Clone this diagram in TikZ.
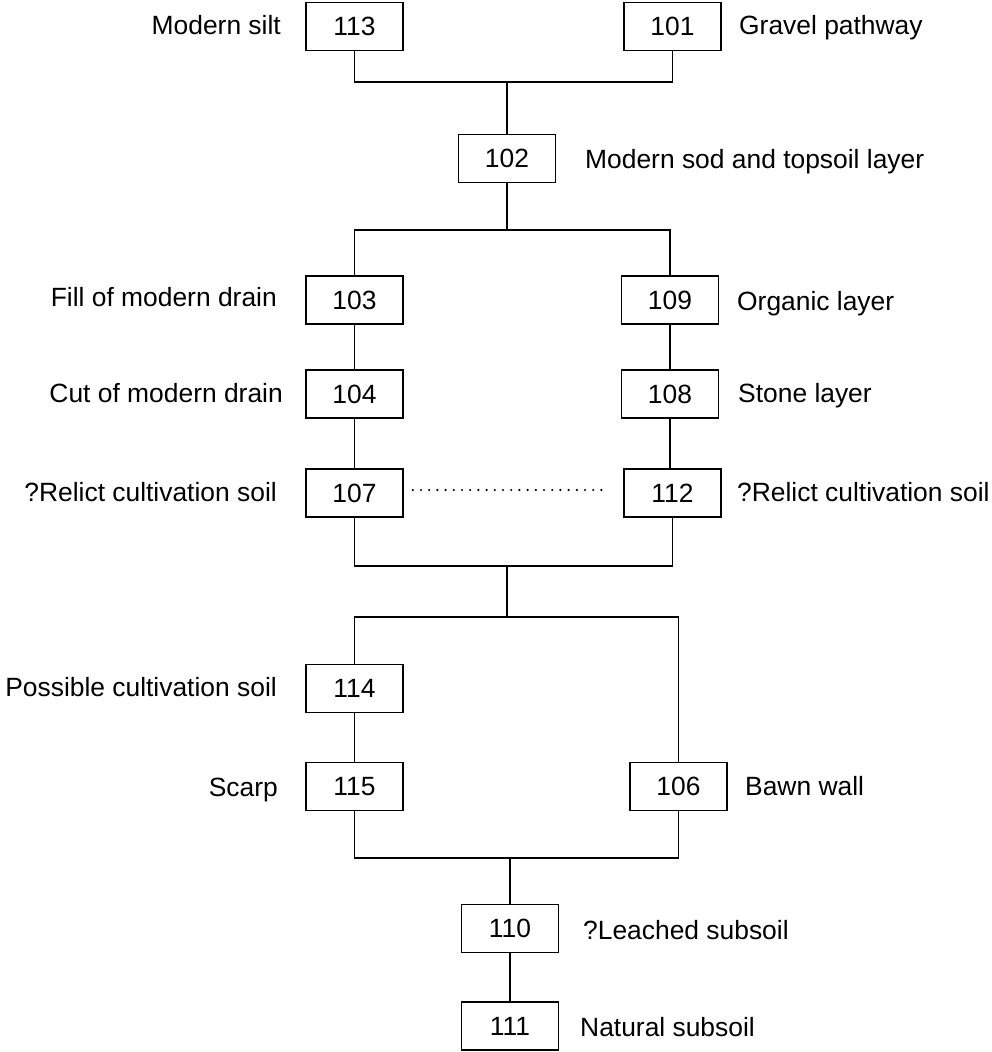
\documentclass[tikz,border=0pt]{standalone}
\usepackage{fontspec}
\setmainfont{Liberation Sans}
\tikzset{
  unit/.style={draw,line width=1.6pt,minimum width=97pt,minimum height=48pt,
    inner sep=0pt,font=\fontsize{26.4}{30}\selectfont},
  desc/.style={inner sep=0pt,text height=19pt,text depth=0pt,
    font=\fontsize{26.4}{30}\selectfont},
  link/.style={line width=1.6pt},
  dots/.style={line width=2.4pt,line cap=round,dash pattern=on 0pt off 8.2pt},
}
\begin{document}
\begin{tikzpicture}[x=1pt,y=-1pt]
  \useasboundingbox (0,0) rectangle (992,1052);
  % context units, left column, right column, centre
  \foreach \n/\x/\y in {113/354.5/26.5, 101/672.5/26.5, 102/507/158.5,
      103/354.5/300, 104/354.5/394, 107/354.5/493,
      109/670/300, 108/670/394, 112/672.5/493,
      114/354.5/688.5, 115/354.5/786.5, 106/678.5/786.5,
      110/510/928.5, 111/510/1026}
    \node[unit] (n\n) at (\x,\y) {\n};
  % descriptions left of the boxes
  \foreach \n/\x/\y/\t in {113/281/25/Modern silt, 103/277/297/Fill of modern drain,
      104/283/393/Cut of modern drain, 107/277/492/?Relict cultivation soil,
      114/277/687/Possible cultivation soil, 115/278/787/Scarp}
    \node[desc,anchor=east] (l\n) at (\x,\y) {\t};
  % descriptions right of the boxes
  \foreach \n/\x/\y/\t in {101/739/25/Gravel pathway, 102/585/159/Modern sod and topsoil layer,
      109/737/301/Organic layer, 108/738/393/Stone layer,
      112/737/492/?Relict cultivation soil, 106/745/786/Bawn wall,
      110/583/930/?Leached subsoil, 111/580/1027/Natural subsoil}
    \node[desc,anchor=west] (l\n) at (\x,\y) {\t};

  \coordinate (j1) at (507,82);
  \coordinate (j2) at (507,230);
  \coordinate (j3) at (507,566);
  \coordinate (j4) at (507,617);
  \coordinate (j5) at (510,858);

  \draw[link] (n113.south) |- (j1) -| (n101.south);
  \draw[link] (j1) -- (n102.north);
  \draw[link] (n102.south) -- (j2);
  \draw[link] (n103.north) |- (j2) -| (n109.north);
  \draw[link] (n103) -- (n104);
  \draw[link] (n104) -- (n107);
  \draw[link] (n109) -- (n108);
  \draw[link] (n108.south) -- (n108.south |- n112.north);
  \draw[dots] ([xshift=9pt,yshift=3pt]n107.east) -- ([xshift=-16pt,yshift=3pt]n112.west);
  \draw[link] (n107.south) |- (j3) -| (n112.south);
  \draw[link] (j3) -- (j4);
  \draw[link] (n114.north) |- (j4) -| (n106.north);
  \draw[link] (n114) -- (n115);
  \draw[link] (n115.south) |- (j5) -| (n106.south);
  \draw[link] (j5) -- (n110.north);
  \draw[link] (n110) -- (n111);
\end{tikzpicture}
\end{document}
